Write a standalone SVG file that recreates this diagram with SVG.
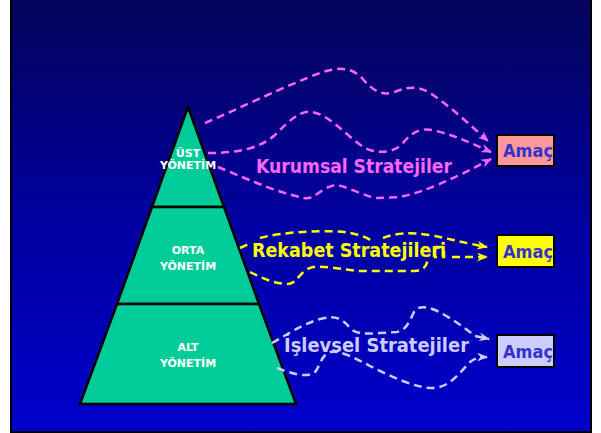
<svg xmlns="http://www.w3.org/2000/svg" width="601" height="433" viewBox="0 0 601 433">
<defs>
<linearGradient id="bg" x1="0" y1="0" x2="0" y2="1">
<stop offset="0" stop-color="#05055a"/>
<stop offset="0.5" stop-color="#00009e"/>
<stop offset="1" stop-color="#0000cc"/>
</linearGradient>
<marker id="mP" viewBox="0 0 10 8" refX="9" refY="4" markerWidth="11" markerHeight="9" markerUnits="userSpaceOnUse" orient="auto"><path d="M0,0 L10,4 L0,8 L3,4 z" fill="#ff66ff"/></marker>
<marker id="mY" viewBox="0 0 10 8" refX="9" refY="4" markerWidth="11" markerHeight="9" markerUnits="userSpaceOnUse" orient="auto"><path d="M0,0 L10,4 L0,8 L3,4 z" fill="#ffff00"/></marker>
<marker id="mL" viewBox="0 0 10 8" refX="9" refY="4" markerWidth="11" markerHeight="9" markerUnits="userSpaceOnUse" orient="auto"><path d="M0,0 L10,4 L0,8 L3,4 z" fill="#ccccff"/></marker>
<style>
.lvl{font-family:"DejaVu Sans","Liberation Sans",sans-serif;font-weight:bold;font-size:11px;fill:#ffffff;text-anchor:middle}
.tier{fill:#00cc99;stroke:#000;stroke-width:2.5;stroke-linejoin:miter}
.dash{fill:none;stroke-width:2.5;stroke-dasharray:8 5}
.pk{stroke:#ff66ff}
.yl{stroke:#ffff00}
.lv{stroke:#ccccff}
.strat{font-family:"DejaVu Sans","Liberation Sans",sans-serif;font-size:19px;font-weight:bold}
.box{stroke:#000;stroke-width:2}
.amac{font-family:"DejaVu Sans","Liberation Sans",sans-serif;font-weight:bold;font-size:18px;fill:#3333cc}
</style>
</defs>
<rect x="11" y="-1" width="580" height="433" fill="url(#bg)" stroke="#000" stroke-width="2"/>

<g id="pyramid">
<g id="ust">
<polygon class="tier" points="188,107 152,207 224,207"/>
<text class="lvl" x="188" y="157">ÜST</text>
<text class="lvl" x="188" y="169">YÖNETİM</text>
</g>
<g id="orta">
<polygon class="tier" points="152,207 224,207 259,304 117,304"/>
<text class="lvl" x="188" y="254">ORTA</text>
<text class="lvl" x="188" y="270">YÖNETİM</text>
</g>
<g id="alt">
<polygon class="tier" points="117,304 259,304 296,404 80,404"/>
<text class="lvl" x="188" y="351">ALT</text>
<text class="lvl" x="188" y="367">YÖNETİM</text>
</g>
</g>

<g id="connectors">
<path class="dash pk" marker-end="url(#mP)" d="M205,123 C240,108 290,84 320,73 C340,66 352,68 362,78 C372,90 380,95 392,93 C405,88 415,84 430,93 C450,106 470,125 488,141"/>
<path class="dash pk" marker-end="url(#mP)" d="M208,153 C240,153 260,148 275,135 C290,120 300,110 312,112 C330,115 345,135 365,148 C380,155 395,152 403,143 C412,132 420,128 432,130 C455,135 470,143 491,152"/>
<path class="dash pk" marker-end="url(#mP)" d="M218,167 C245,178 275,192 304,198 C315,200 320,188 335,185 C345,185 365,197 377,198 L400,197 C425,192 455,178 491,159"/>

<path class="dash yl" d="M240,248 L251,243"/>
<path class="dash yl" d="M260,238 C280,232 330,229 350,233 C360,235 366,237 372,241"/>
<path class="dash yl" marker-end="url(#mY)" d="M383,238 C395,233 410,232 430,235 C450,239 465,243 487,247"/>
<path class="dash yl" d="M250,272 C262,278 275,284 288,284 C298,283 300,270 313,267 C330,266 345,270 360,271 L415,271 C425,270 427,265 428,258"/>
<rect class="dash yl" x="435" y="247" width="9" height="10" stroke-dasharray="5 3"/>
<path class="dash yl" marker-end="url(#mY)" d="M452,257 L487,257"/>

<path class="dash lv" marker-end="url(#mL)" d="M272,343 C285,336 300,325 320,319 C335,315 342,318 350,328 C355,334 365,334 380,333 L397,332 C407,330 410,320 414,312 C418,306 425,306 435,310 C450,317 465,328 475,336 L489,339"/>
<path class="dash lv" marker-end="url(#mL)" d="M277,368 C290,373 305,378 314,373 C320,368 320,356 330,352 C340,350 355,358 370,366 C390,376 415,388 432,388 C450,388 460,372 470,362 C475,358 480,357 487,357"/>
</g>

<g id="labels">
<text class="strat" x="256" y="173" fill="#ff66ff" textLength="196" lengthAdjust="spacingAndGlyphs">Kurumsal Stratejiler</text>
<text class="strat" x="252" y="257" fill="#ffff00" textLength="194" lengthAdjust="spacingAndGlyphs">Rekabet Stratejileri</text>
<text class="strat" x="284" y="352" fill="#ccccff" textLength="185" lengthAdjust="spacingAndGlyphs">İşlevsel Stratejiler</text>
</g>

<g id="amac1">
<rect class="box" x="497" y="135" width="57" height="31" fill="#ff9999"/>
<text class="amac" x="503" y="157" textLength="50" lengthAdjust="spacingAndGlyphs">Amaç</text>
</g>
<g id="amac2">
<rect class="box" x="497" y="235" width="57" height="32" fill="#ffff00"/>
<text class="amac" x="503" y="258" textLength="50" lengthAdjust="spacingAndGlyphs">Amaç</text>
</g>
<g id="amac3">
<rect class="box" x="497" y="335" width="57" height="32" fill="#ccccff"/>
<text class="amac" x="503" y="358" textLength="50" lengthAdjust="spacingAndGlyphs">Amaç</text>
</g>
</svg>
